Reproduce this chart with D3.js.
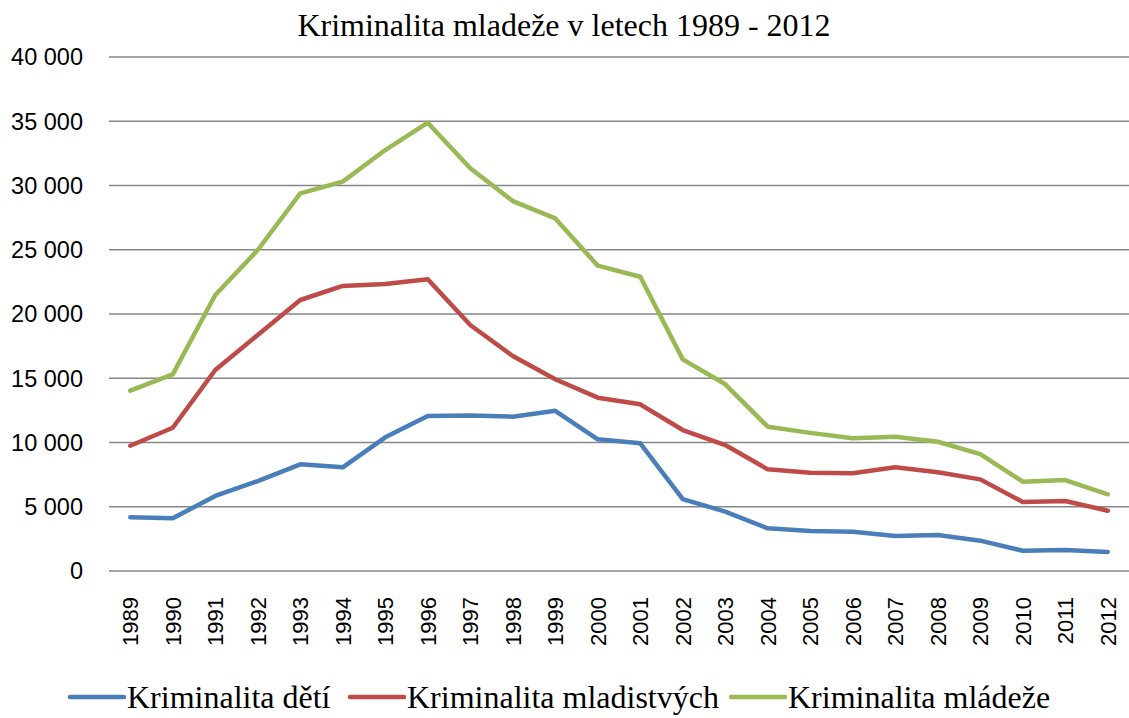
<!DOCTYPE html>
<html><head><meta charset="utf-8">
<script src="https://cdn.jsdelivr.net/npm/d3@7"></script>
<style>body{margin:0;background:#fff}svg{display:block}</style>
</head><body>
<svg id="c" width="1129" height="718"></svg>
<script>
const years = ["1989","1990","1991","1992","1993","1994","1995","1996","1997","1998","1999","2000","2001","2002","2003","2004","2005","2006","2007","2008","2009","2010","2011","2012"];
const deti = [4180,4100,5840,7000,8300,8070,10400,12060,12110,12010,12470,10250,9940,5600,4620,3320,3110,3060,2720,2800,2360,1580,1630,1480];
const mladistvi = [9750,11150,15640,18370,21090,22180,22330,22700,19140,16730,14920,13490,12970,10970,9800,7910,7650,7600,8070,7680,7130,5370,5450,4690];
const mladez = [14030,15300,21480,24980,29390,30300,32760,34890,31340,28790,27440,23760,22900,16470,14530,11230,10750,10330,10450,10060,9100,6950,7080,5970];
const yTicks = [0,5000,10000,15000,20000,25000,30000,35000,40000];
const seriesNames = ["Kriminalita dětí","Kriminalita mladistvých","Kriminalita mládeže"];
const colors = ["#4a7ebb","#be4b48","#98b954"];
const title = "Kriminalita mladeže v letech 1989 - 2012";

const svg = d3.select("#c");
const x = d3.scaleBand().domain(years).range([109,1129]).padding(0);
const y = d3.scaleLinear().domain([0,40000]).range([571,57]);
const fmt = v => d3.format(",")(v).replace(/,/g," ");

// gridlines
svg.append("g").selectAll("line").data(yTicks).join("line")
  .attr("x1",109).attr("x2",1129)
  .attr("y1",d=>y(d)).attr("y2",d=>y(d))
  .attr("stroke","#868686").attr("stroke-width",1.5);

// y labels
svg.append("g").selectAll("text").data(yTicks).join("text")
  .attr("x",83).attr("y",d=>y(d)).attr("dy","0.36em")
  .attr("text-anchor","end")
  .attr("font-family","Liberation Sans, Arial, sans-serif").attr("font-size",23.5)
  .attr("fill","#000").text(fmt);

// x labels
svg.append("g").selectAll("text").data(years).join("text")
  .attr("transform",d=>`translate(${x(d)+x.bandwidth()/2},597) rotate(-90)`)
  .attr("text-anchor","end").attr("dy","0.36em")
  .attr("font-family","Liberation Sans, Arial, sans-serif").attr("font-size",22)
  .attr("fill","#000").text(d=>d);

// lines
const allSeries = [deti, mladistvi, mladez];
const line = d3.line().x((d,i)=>x(years[i])+x.bandwidth()/2).y(d=>y(d));
allSeries.forEach((s,k)=>{
  svg.append("path").datum(s).attr("d",line)
    .attr("fill","none").attr("stroke",colors[k]).attr("stroke-width",4.5)
    .attr("stroke-linejoin","round").attr("stroke-linecap","round");
});

// title
svg.append("text").attr("x",564).attr("y",36).attr("text-anchor","middle")
  .attr("font-family","Liberation Serif, Times New Roman, serif").attr("font-size",32)
  .attr("fill","#000").text(title);

// legend
const legX = [70,350,731];
const lg = svg.append("g");
seriesNames.forEach((n,k)=>{
  lg.append("line").attr("x1",legX[k]).attr("x2",legX[k]+54).attr("y1",697).attr("y2",697)
    .attr("stroke",colors[k]).attr("stroke-width",4.5).attr("stroke-linecap","round");
  lg.append("text").attr("x",legX[k]+57).attr("y",697).attr("dy","0.33em")
    .attr("font-family","Liberation Serif, Times New Roman, serif").attr("font-size",32)
    .attr("fill","#000").text(n);
});
</script>
</body></html>
